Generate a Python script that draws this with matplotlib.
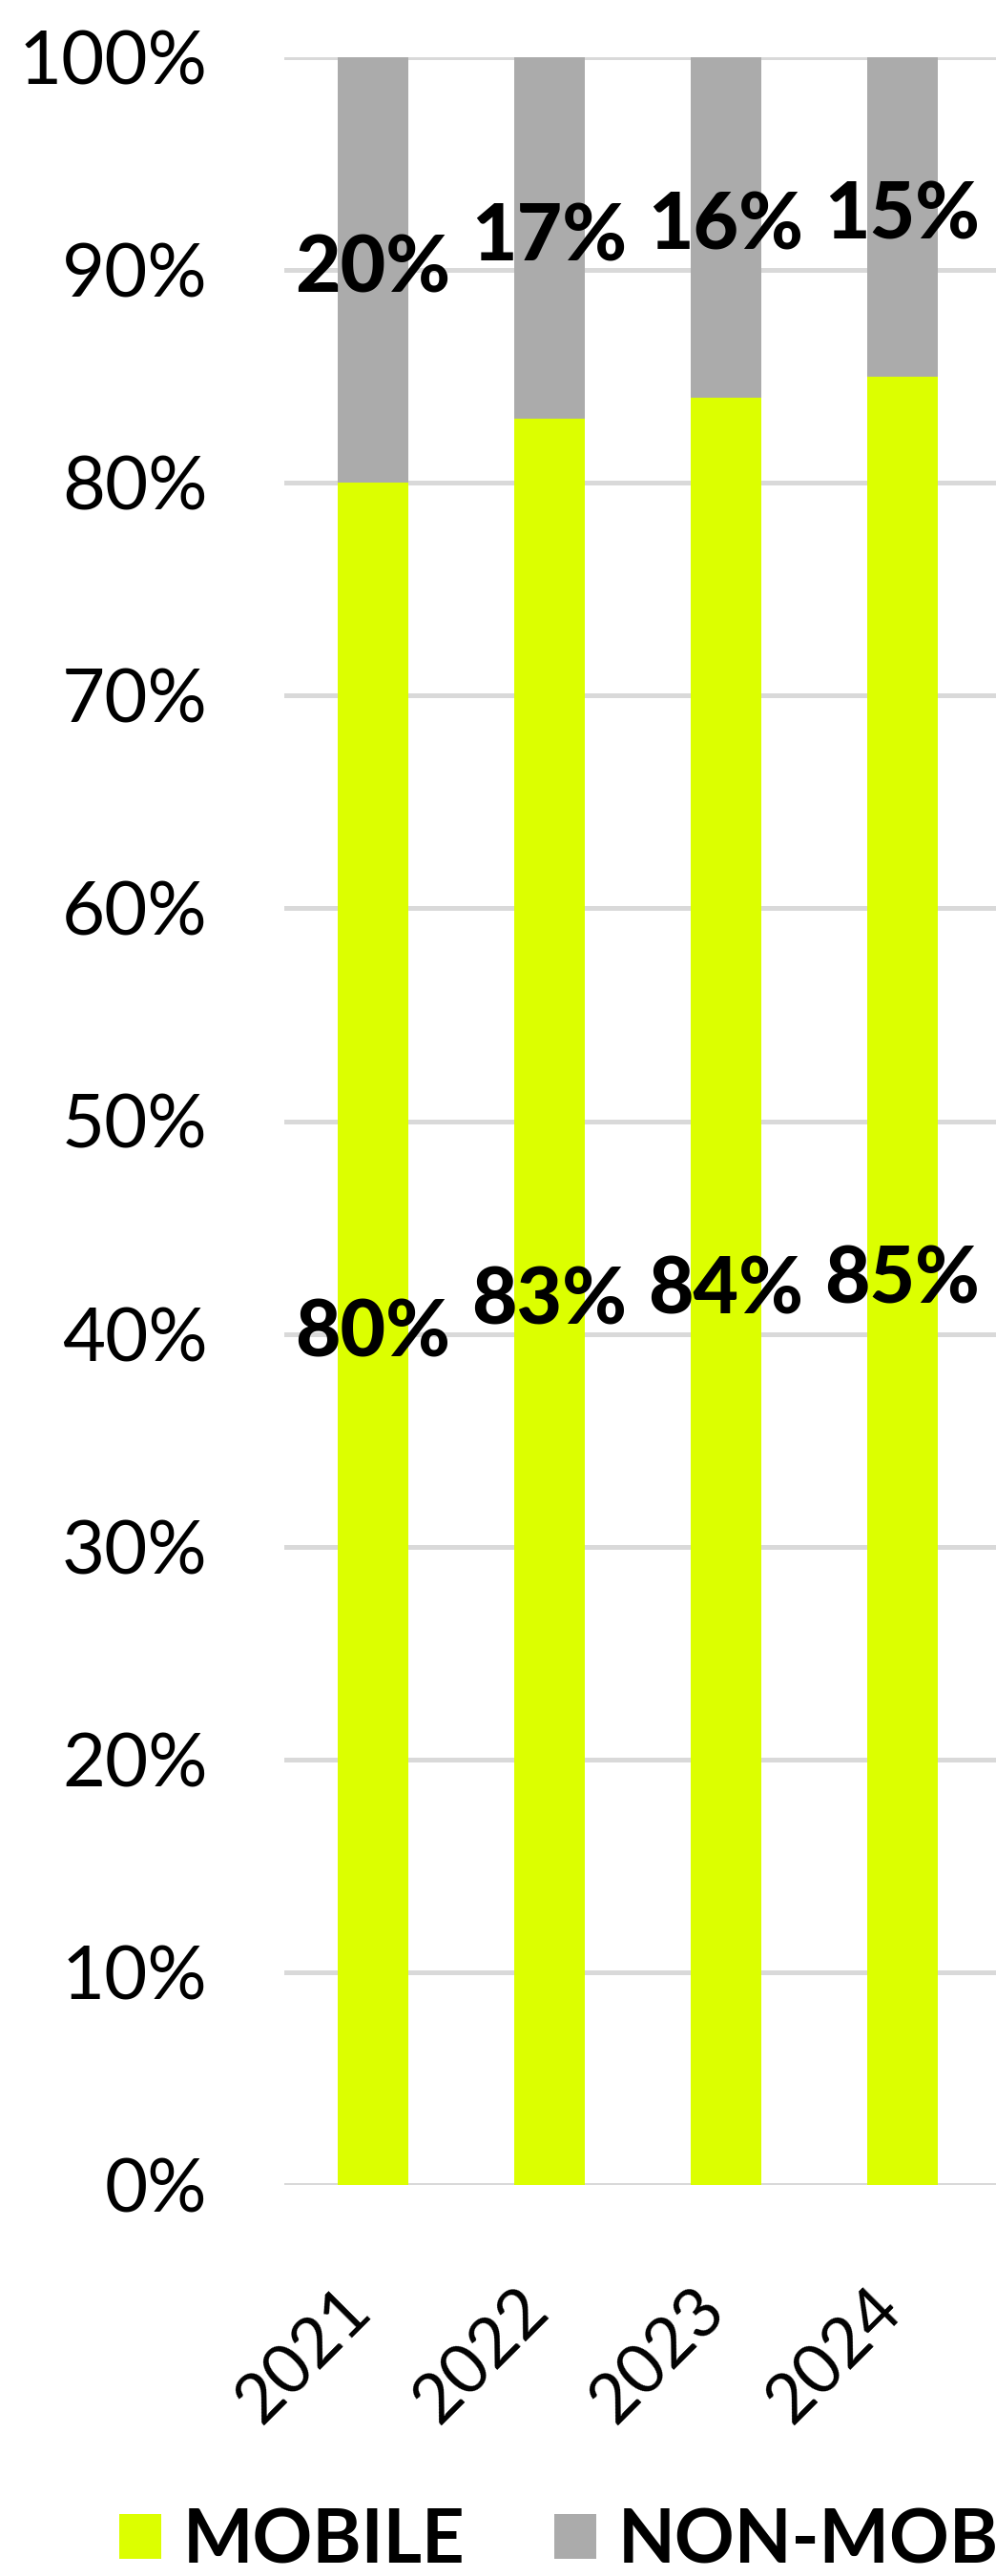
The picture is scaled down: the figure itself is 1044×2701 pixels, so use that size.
import numpy as np
import matplotlib
matplotlib.use('Agg')
import matplotlib.pyplot as plt
import matplotlib.ticker as tck
from matplotlib.transforms import ScaledTranslation

# data
years = ['2021', '2022', '2023', '2024']
mobile = [80, 83, 84, 85]       # % share
non_mobile = [20, 17, 16, 15]   # % share

yellow = '#DCFF00'
grey = '#ABABAB'

plt.rcParams['font.family'] = ['Lato', 'DejaVu Sans']

fig = plt.figure(figsize=(10.44, 27.01), dpi=100)
ax = fig.add_axes([298/1044, 410/2701, 1 - 298/1044, 2231/2701])

x = np.arange(len(years))
b1 = ax.bar(x, mobile, width=0.4, color=yellow, label='MOBILE', zorder=2)
b2 = ax.bar(x, non_mobile, width=0.4, bottom=mobile, color=grey,
            label='NON-MOBILE', zorder=2)

# labels in the middle of each segment
ax.bar_label(b1, labels=[f'{v}%' for v in mobile], label_type='center',
             fontsize=59, fontweight='black', color='black', zorder=3)
ax.bar_label(b2, labels=[f'{v}%' for v in non_mobile], label_type='center',
             fontsize=59, fontweight='black', color='black', zorder=3)

ax.set_xlim(-0.5, 3.53)
ax.set_ylim(0, 100)
ax.set_yticks(range(0, 101, 10))
ax.yaxis.set_major_formatter(tck.FuncFormatter(lambda v, p: f'{int(v)}%'))
ax.grid(axis='y', color='#D9D9D9', linewidth=3.6, zorder=0)
ax.set_axisbelow(True)
for s in ax.spines.values():
    s.set_visible(False)

ax.tick_params(axis='y', length=0, pad=58, labelsize=56)
ax.set_xticks(x)
ax.set_xticklabels(years, rotation=45, ha='right', va='center',
                   rotation_mode='anchor', fontsize=52)
ax.tick_params(axis='x', length=0, pad=86)
for lab in ax.get_xticklabels():
    lab.set_transform(lab.get_transform() + ScaledTranslation(-0.12, 0, fig.dpi_scale_trans))

# legend at the bottom, right part cut off like the original
leg = fig.legend(handles=[b1, b2], loc='center left',
                 bbox_to_anchor=(125/1044, 36/2701), ncol=2, frameon=False,
                 prop={'size': 56, 'weight': 'bold'},
                 handlelength=0.57, handleheight=0.57, handletextpad=0.29,
                 columnspacing=1.2, borderpad=0, borderaxespad=0)

fig.savefig('out.png', dpi=100)
